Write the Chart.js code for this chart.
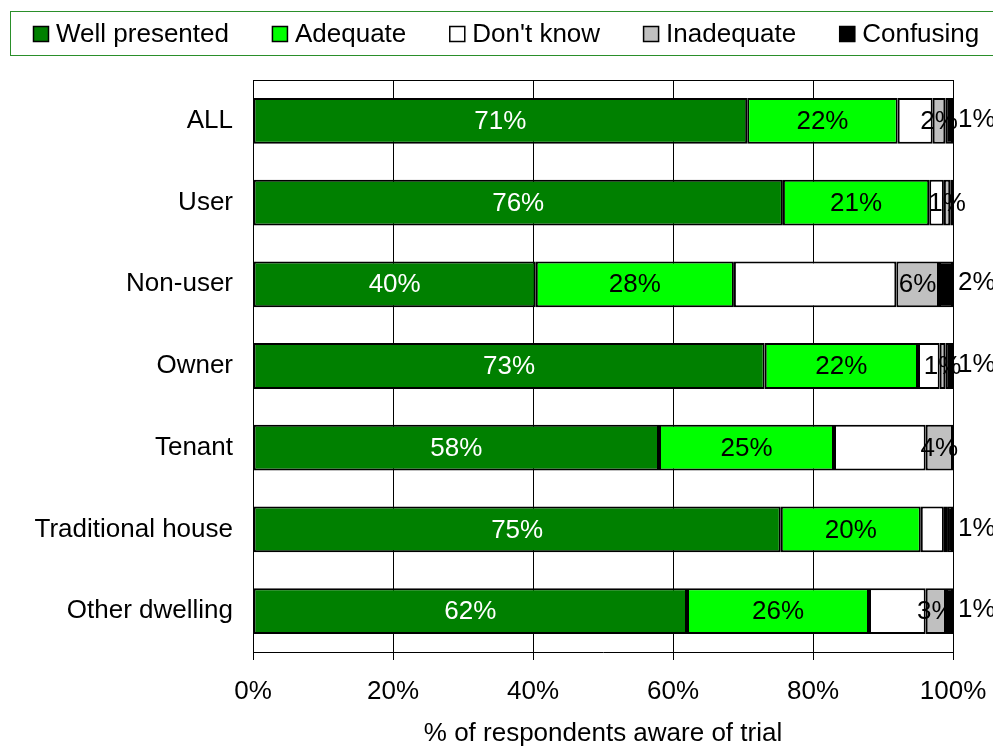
<!DOCTYPE html>
<html lang="en">
<head>
<meta charset="UTF-8">
<title>Trial presentation</title>
<script src="https://cdn.jsdelivr.net/npm/chart.js"></script>
<style>
  html, body { margin: 0; padding: 0; background: #fff; }
</style>
</head>
<body>
<canvas id="grafico" width="993" height="749"></canvas>
<script>
// dados (% por categoria)
const categorias = ['ALL', 'User', 'Non-user', 'Owner', 'Tenant', 'Traditional house', 'Other dwelling'];
const wellPresented = [70.6, 75.7, 40.4, 73.1, 58.0, 75.4, 62.0];
const adequate = [21.5, 20.9, 28.3, 21.9, 25.0, 20.0, 26.0];
const dontKnow = [5.0, 2.1, 23.2, 3.1, 13.1, 3.3, 8.1];
const inadequate = [1.8, 0.9, 6.1, 0.8, 3.9, 0.45, 2.9];
const confusing = [1.1, 0.4, 2.0, 1.1, 0.0, 0.85, 1.0];
const xTicks = [0, 20, 40, 60, 80, 100];

const fonte = 'Arial, "Liberation Sans", sans-serif';
Chart.defaults.font.family = fonte;
Chart.defaults.font.size = 26;
Chart.defaults.color = '#000';

// legenda desenhada dentro da caixa verde
const legendaCaixa = {
  id: 'legendaCaixa',
  afterDraw(chart) {
    const ctx = chart.ctx;
    ctx.save();
    ctx.strokeStyle = '#2a8f2a';
    ctx.lineWidth = 1;
    ctx.strokeRect(10.5, 11.5, 1000, 44);
    ctx.font = '26px ' + fonte;
    ctx.textBaseline = 'middle';
    ctx.textAlign = 'left';
    let x = 33;
    chart.data.datasets.forEach(ds => {
      ctx.fillStyle = ds.backgroundColor;
      ctx.fillRect(x, 26, 16, 16);
      ctx.strokeStyle = '#000';
      ctx.lineWidth = 1.5;
      ctx.strokeRect(x + 0.5, 26.5, 15, 15);
      ctx.fillStyle = '#000';
      ctx.fillText(ds.label, x + 23, 35);
      x += 23 + ctx.measureText(ds.label).width + 43;
    });
    ctx.restore();
  }
};

// linha de cima da area do grafico
const moldura = {
  id: 'moldura',
  afterDraw(chart) {
    const a = chart.chartArea;
    const ctx = chart.ctx;
    ctx.save();
    ctx.strokeStyle = '#000';
    ctx.lineWidth = 1;
    ctx.beginPath();
    ctx.moveTo(a.left, a.top + 0.5);
    ctx.lineTo(a.right, a.top + 0.5);
    ctx.stroke();
    ctx.restore();
  }
};

// rotulos de porcentagem nas barras
const rotulos = {
  id: 'rotulos',
  afterDatasetsDraw(chart) {
    const ctx = chart.ctx;
    ctx.save();
    ctx.font = '26px ' + fonte;
    ctx.textBaseline = 'middle';
    chart.data.datasets.forEach((ds, i) => {
      if (ds.label === "Don't know") return;
      chart.getDatasetMeta(i).data.forEach((bar, j) => {
        const v = Math.round(ds.data[j]);
        if (v < 1) return;
        const txt = v + '%';
        if (ds.label === 'Confusing') {
          ctx.textAlign = 'left';
          ctx.fillStyle = '#000';
          ctx.fillText(txt, bar.x + 5, bar.y - 1);
        } else {
          ctx.textAlign = 'center';
          ctx.fillStyle = i === 0 ? '#fff' : '#000';
          ctx.fillText(txt, (bar.x + bar.base) / 2, bar.y + 1);
        }
      });
    });
    ctx.restore();
  }
};

function serie(label, data, cor) {
  return {
    label: label,
    data: data,
    backgroundColor: cor,
    borderColor: '#000',
    borderWidth: 2,
    borderSkipped: false,
    barPercentage: 0.56,
    categoryPercentage: 1
  };
}

new Chart(document.getElementById('grafico'), {
  type: 'bar',
  data: {
    labels: categorias,
    datasets: [
      serie('Well presented', wellPresented, '#008000'),
      serie('Adequate', adequate, '#00ff00'),
      serie("Don't know", dontKnow, '#ffffff'),
      serie('Inadequate', inadequate, '#c0c0c0'),
      serie('Confusing', confusing, '#000000')
    ]
  },
  options: {
    indexAxis: 'y',
    responsive: false,
    animation: false,
    devicePixelRatio: 1,
    layout: { padding: { top: 80, right: 40, left: 0, bottom: 0 } },
    plugins: {
      legend: { display: false },
      tooltip: { enabled: false }
    },
    scales: {
      x: {
        stacked: true,
        min: 0,
        max: 100,
        afterBuildTicks: s => { s.ticks = xTicks.map(v => ({ value: v })); },
        afterFit: s => {
          s.height = 97;
          s.paddingRight = 0;
          s.paddingLeft = 0;
        },
        ticks: { callback: v => v + '%', padding: 16, maxRotation: 0 },
        grid: { color: '#000', lineWidth: 1, tickLength: 8 },
        border: { color: '#000', width: 1 },
        title: {
          display: true,
          text: '% of respondents aware of trial',
          padding: { top: 6, bottom: 0 }
        }
      },
      y: {
        stacked: true,
        afterFit: s => { s.width = 253; },
        grid: { display: false, drawTicks: false },
        border: { display: true, color: '#000', width: 1 },
        ticks: { padding: 20 }
      }
    }
  },
  plugins: [legendaCaixa, moldura, rotulos]
});
</script>
</body>
</html>
